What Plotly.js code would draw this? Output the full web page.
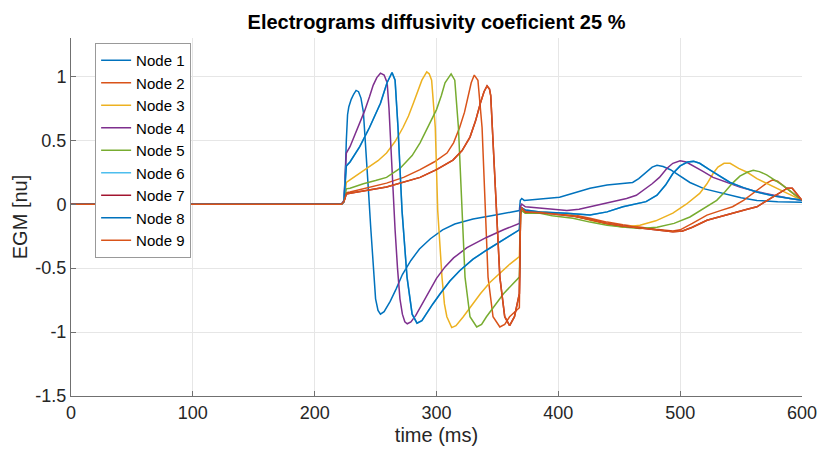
<!DOCTYPE html>
<html>
<head>
<meta charset="utf-8">
<script src="https://cdn.plot.ly/plotly-3.0.1.min.js"></script>
<style>html,body{margin:0;padding:0;background:#fff;}#chart{width:819px;height:450px;}</style>
</head>
<body>
<div id="chart"></div>
<script>
// Node 1 (blue, earliest)
const t1 = [0,222,224,225,226,227,228,230,232,234,236,238,240,242,244,246,248,250,252,254,257,262,267,272,279,286,295,305,315,330,345,360,368,368.8,370,372,385,401,410,418,426,440,453,461,466,472,477,481,486,492,500,508,520,535,550,563,580,600];
const v1 = [0,0,0.02,0.2,0.5,0.7,0.76,0.82,0.86,0.89,0.88,0.83,0.72,0.45,0.13,-0.18,-0.5,-0.74,-0.83,-0.86,-0.84,-0.76,-0.66,-0.55,-0.44,-0.35,-0.27,-0.2,-0.155,-0.115,-0.09,-0.065,-0.05,0.03,0.045,0.03,0.04,0.055,0.08,0.105,0.125,0.15,0.165,0.17,0.2,0.25,0.29,0.305,0.295,0.27,0.22,0.17,0.12,0.085,0.05,0.03,0.02,0.015];
// Node 2 (orange, peak ~331)
const t2 = [0,222,224,225,226,229,245,259,273,286.5,298,308.6,314,319,323,326,328.5,331,334,337.4,340,342.3,346.4,352,356,360,368,369,370,373,385,400,413,426,440,453,467,480,494,500,510,522,533,543,552,560,566,571,576,580,584,592,600];
const v2 = [0,0,0.02,0.07,0.09,0.095,0.13,0.165,0.21,0.27,0.33,0.4,0.48,0.6,0.72,0.84,0.95,1.01,0.97,0.6,-0.05,-0.57,-0.88,-0.96,-0.94,-0.88,-0.81,-0.06,-0.03,-0.06,-0.06,-0.075,-0.085,-0.11,-0.14,-0.16,-0.18,-0.195,-0.21,-0.2,-0.15,-0.085,-0.05,-0.02,0.03,0.085,0.13,0.165,0.19,0.18,0.15,0.09,0.03];
// Node 3 (yellow)
const t3 = [0,222,224,225,226,229,237,245,252,259,266,272.5,277,281,285,288,292,294,296,299,301,303,304.5,306.5,308.5,312.5,316,322,329,336,344,352,360,368,369,370,373,385,401,413,426,440,453,467,480,494,505,516,522,527,531,536,541,548,555,563,571,580,588,600];
const v3 = [0,0,0.02,0.12,0.17,0.19,0.24,0.29,0.34,0.4,0.49,0.6,0.69,0.79,0.89,0.97,1.035,1.02,0.97,0.6,-0.05,-0.4,-0.57,-0.78,-0.88,-0.965,-0.95,-0.88,-0.79,-0.7,-0.61,-0.54,-0.47,-0.41,-0.08,-0.05,-0.07,-0.06,-0.07,-0.09,-0.125,-0.155,-0.18,-0.165,-0.13,-0.07,0.0,0.085,0.16,0.24,0.29,0.32,0.32,0.28,0.25,0.2,0.165,0.12,0.085,0.03];
// Node 4 (purple)
const t4 = [0,222,224,225,226,229,233,237,241,245,248,251,254,257,259.5,261,262,264,266,268,270,272,274,276,279,283,287,293,300,307,314,325,341,355,368,368.8,370,373,385,395,407,417,426,440,456,464,470,477,483,489,494,500,505,510,518,527,538,549,562,576,590,600];
const v4 = [0,0,0.03,0.25,0.4,0.45,0.54,0.63,0.73,0.84,0.93,0.99,1.025,1.01,0.95,0.75,0.55,0.2,-0.2,-0.5,-0.74,-0.86,-0.92,-0.935,-0.92,-0.87,-0.8,-0.7,-0.58,-0.49,-0.42,-0.34,-0.26,-0.2,-0.15,-0.02,0.0,-0.02,-0.03,-0.04,-0.05,-0.04,-0.02,0.015,0.045,0.07,0.11,0.16,0.21,0.28,0.32,0.34,0.33,0.305,0.26,0.21,0.17,0.135,0.1,0.07,0.045,0.03];
// Node 5 (green)
const t5 = [0,222,224,225,226,229,240,250,259,270,280,286.5,293,300,304,307,312,315,318,321,323.4,327.5,333,337,341,348,355,362,368,369,370,373,385,395,412,426,440,455,467,481,495,508,520,530,537,543,549,555,560,565,571,578,584,592,600];
const v5 = [0,0,0.02,0.09,0.12,0.125,0.16,0.185,0.21,0.28,0.38,0.48,0.6,0.74,0.85,0.95,1.02,0.97,0.6,-0.05,-0.57,-0.88,-0.96,-0.94,-0.88,-0.79,-0.7,-0.63,-0.57,-0.08,-0.05,-0.07,-0.07,-0.09,-0.11,-0.14,-0.165,-0.18,-0.19,-0.18,-0.15,-0.1,-0.03,0.03,0.1,0.165,0.22,0.25,0.265,0.255,0.23,0.19,0.15,0.09,0.03];
// Node 8 (blue, later)
const t8 = [0,222,224,225,226,229,237,245,254,259.4,263.5,266,268.4,271.7,275.8,280,284,288,292,297,303,311,319,330,341,355,368,369,370,373,385,407,426,440,453,472,481,488,494,500,506,511,516,524,532,541,552,563,577,590,600];
const v8 = [0,0,0.02,0.2,0.3,0.33,0.45,0.6,0.79,0.95,1.03,0.97,0.6,-0.05,-0.57,-0.86,-0.93,-0.91,-0.85,-0.78,-0.7,-0.6,-0.52,-0.43,-0.36,-0.28,-0.2,-0.045,-0.03,-0.045,-0.06,-0.07,-0.085,-0.06,-0.02,0.02,0.07,0.15,0.24,0.3,0.33,0.335,0.32,0.27,0.22,0.17,0.13,0.095,0.065,0.045,0.03];
// Node 9 (orange, later)
const t9 = [0,222,224,225,226,229,245,259,286.5,300,313.5,321,327.5,332,336,339,341.5,343.5,344.5,346.5,349.5,352,356,360,364,367,368,369,370,373,385,400,413,426,440,453,467,480,494,502,510,522,533,543,555,563,570,576,582,588,592,596,600];
const v9 = [0,0,0.02,0.06,0.08,0.085,0.11,0.135,0.21,0.27,0.345,0.42,0.525,0.65,0.79,0.88,0.925,0.9,0.85,0.48,-0.05,-0.57,-0.88,-0.95,-0.88,-0.75,-0.7,-0.06,-0.03,-0.06,-0.065,-0.08,-0.095,-0.12,-0.15,-0.17,-0.185,-0.2,-0.215,-0.21,-0.18,-0.125,-0.095,-0.07,-0.04,-0.02,0.02,0.055,0.095,0.125,0.125,0.08,0.03];
// Nodes 6 and 7 coincide with Nodes 8 and 9 (hidden underneath)
const t6 = t8, v6 = v8, t7 = t9, v7 = v9;

const names = ['Node 1','Node 2','Node 3','Node 4','Node 5','Node 6','Node 7','Node 8','Node 9'];
const colors = ['#0072BD','#D95319','#EDB120','#7E2F8E','#77AC30','#4DBEEE','#A2142F','#0072BD','#D95319'];
const ts = [t1,t2,t3,t4,t5,t6,t7,t8,t9];
const vs = [v1,v2,v3,v4,v5,v6,v7,v8,v9];

const xTickVals = [0,100,200,300,400,500,600];
const xTickText = ['0','100','200','300','400','500','600'];
const yTickVals = [-1.5,-1,-0.5,0,0.5,1];
const yTickText = ['-1.5','-1','-0.5','0','0.5','1'];

const data = names.map((n,i)=>({
  x: ts[i], y: vs[i], name: n, type: 'scatter', mode: 'lines',
  line: {color: colors[i], width: 1.5}
}));

const axisCommon = {
  showgrid: true, gridcolor: '#e6e6e6', gridwidth: 1,
  zeroline: false, showline: true, linecolor: '#707070', linewidth: 1,
  ticks: 'inside', ticklen: 5, tickcolor: '#707070', tickmode: 'array',
  tickfont: {family: 'Liberation Sans, Arial, sans-serif', size: 18, color: '#262626'}
};

const layout = {
  width: 819, height: 450,
  margin: {l: 71, r: 17, t: 38, b: 54},
  paper_bgcolor: '#fff', plot_bgcolor: '#fff',
  font: {family: 'Liberation Sans, Arial, sans-serif', color: '#262626'},
  title: {text: '<b>Electrograms diffusivity coeficient 25 %</b>', font: {size: 20, color: '#000'},
          x: 0.5, xref: 'paper', y: 0.951, yref: 'container', yanchor: 'middle'},
  xaxis: Object.assign({}, axisCommon, {range: [0, 600], tickvals: xTickVals, ticktext: xTickText,
    title: {text: 'time (ms)', font: {size: 20, color: '#262626'}, standoff: 6}}),
  yaxis: Object.assign({}, axisCommon, {range: [-1.5, 1.3], tickvals: yTickVals, ticktext: yTickText,
    title: {text: 'EGM [nu]', font: {size: 20, color: '#262626'}, standoff: 2}}),
  showlegend: true,
  legend: {x: 0.033, y: 0.986, xanchor: 'left', yanchor: 'top',
    bgcolor: '#fff', bordercolor: '#999', borderwidth: 1,
    font: {size: 15, color: '#000'}, itemwidth: 30, tracegroupgap: 0}
};

Plotly.newPlot('chart', data, layout, {displayModeBar: false, staticPlot: true});
</script>
</body>
</html>
